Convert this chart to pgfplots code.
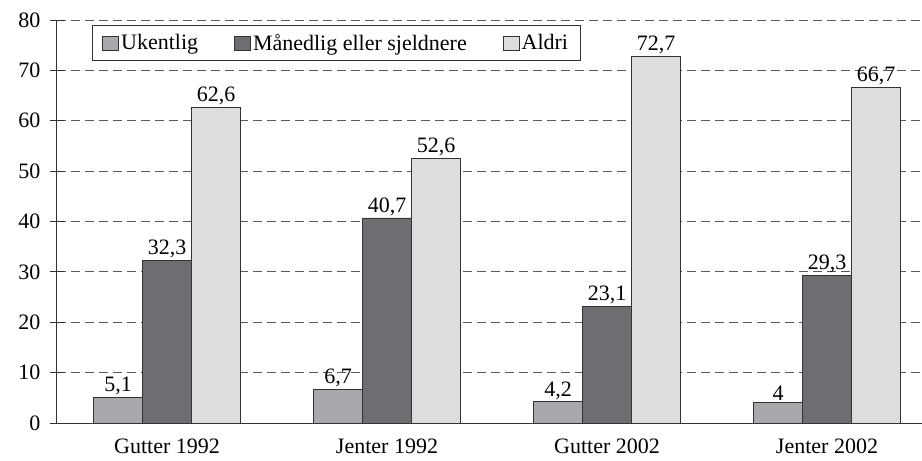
\documentclass[border=0pt]{standalone}
\usepackage{pgfplots}
\pgfplotsset{compat=1.18}
\usepackage{fontspec}
\setmainfont{Liberation Serif}
\newcommand\f{\fontsize{22pt}{25pt}\selectfont}
\definecolor{cU}{HTML}{A7A9AC}
\definecolor{cM}{HTML}{6D6E71}
\definecolor{cA}{HTML}{DCDDDF}
\definecolor{edge}{HTML}{333333}
\begin{document}
\begin{tikzpicture}
\useasboundingbox (-57pt,-38pt) rectangle (865pt,423pt);
\begin{axis}[
  scale only axis, width=865pt, height=403pt,
  xmin=-0.5, xmax=3.4318, ymin=0, ymax=80,
  ybar=0pt, bar width=49pt,
  axis x line=bottom, axis y line=left,
  axis line style={-, edge, line width=1pt},
  xtick={0,1,2,3},
  xticklabels={Gutter 1992, Jenter 1992, Gutter 2002, Jenter 2002},
  x tick style={draw=none},
  extra x ticks={0.5,1.5,2.5},
  extra x tick labels={},
  extra x tick style={major tick length=6pt, tick style={draw=edge, line width=0.8pt}, tick align=outside},
  ytick={0,10,...,80},
  y tick style={edge, line width=0.8pt},
  major tick length=14pt, ytick align=center,
  ymajorgrids, major grid style={dash pattern=on 9pt off 5pt, color=black!65, line width=0.8pt},
  tick label style={font=\f},
  yticklabel style={xshift=-6pt},
  xticklabel style={yshift=-8pt, inner sep=1pt},
  /pgf/number format/assume math mode=true,
  /pgf/number format/use comma,
  /pgf/number format/1000 sep={},
  nodes near coords,
  every node near coord/.append style={font=\f, inner sep=2pt, black},
  legend columns=3,
  legend image code/.code={\draw[#1, draw=edge, line width=0.8pt] (0pt,-7pt) rectangle (16pt,7pt);},
  legend style={at={(rel axis cs:0.0405,0.988)}, anchor=north west,
    draw=edge, line width=0.8pt, font=\f, inner xsep=10pt, inner ysep=7pt,
    /tikz/every even column/.append style={column sep=34pt},
    nodes={inner sep=2pt}},
]
\addplot[fill=cU, draw=edge, line width=0.8pt] coordinates {(0,5.1) (1,6.7) (2,4.2) (3,4)};
\addplot[fill=cM, draw=edge, line width=0.8pt] coordinates {(0,32.3) (1,40.7) (2,23.1) (3,29.3)};
\addplot[fill=cA, draw=edge, line width=0.8pt] coordinates {(0,62.6) (1,52.6) (2,72.7) (3,66.7)};
\legend{Ukentlig, Månedlig eller sjeldnere, Aldri}
\end{axis}
\end{tikzpicture}
\end{document}
